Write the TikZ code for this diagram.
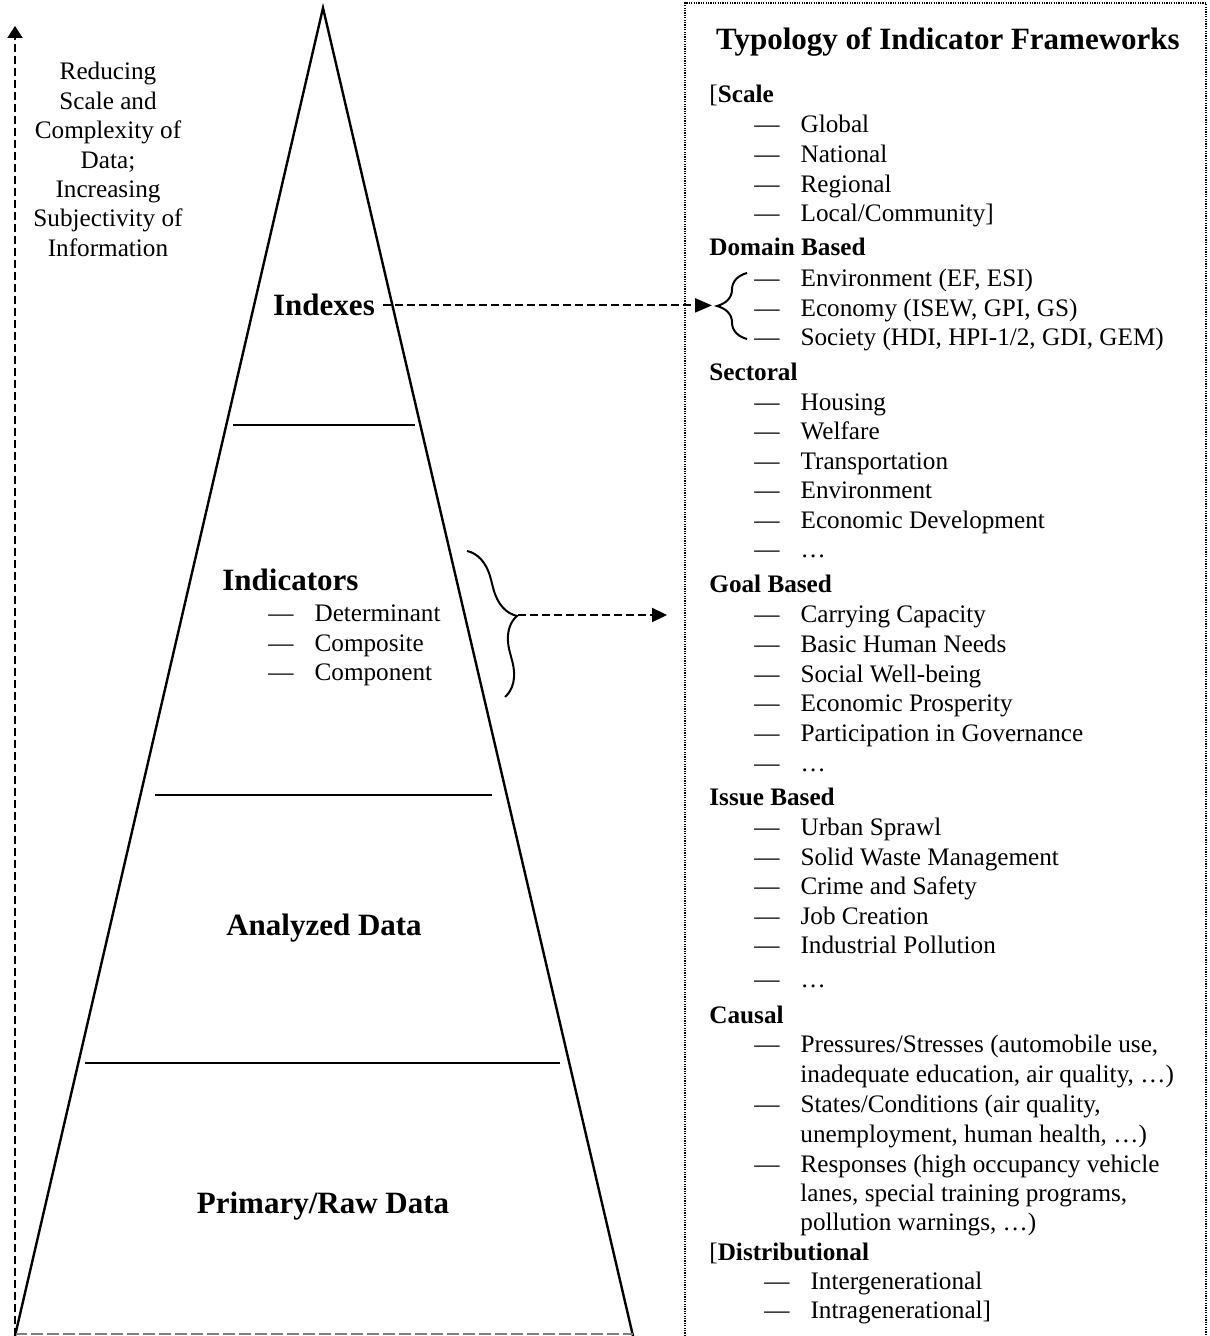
\documentclass[tikz,border=0pt]{standalone}
\usepackage{fontspec}
\setmainfont{Liberation Serif}
\usetikzlibrary{arrows.meta,decorations.pathreplacing}

\newcommand\itemdash{---\hspace{10.5pt}}

\begin{document}
\begin{tikzpicture}[x=0.5pt,y=-0.5pt,
  txt/.style={anchor=base west,inner sep=0pt,font=\fontsize{12.6}{14.8}\selectfont},
  head/.style={anchor=base west,inner sep=0pt,font=\fontsize{12.6}{14.8}\selectfont\bfseries},
  big/.style={anchor=base,inner sep=0pt,font=\fontsize{15.5}{18}\selectfont\bfseries},
  pyr/.style={line width=1.2pt},
  dasharrow/.style={line width=1.1pt,dash pattern=on 4pt off 2pt,-{Triangle[length=8.5pt,width=7pt]}},
  brc/.style={line width=1pt,decorate,decoration={brace,amplitude=15pt}}]
\useasboundingbox (0,0) rectangle (1209,1336);
% pyramid
\draw[pyr] (15,1336) -- (323,8) -- (633,1336);
\draw[gray,line width=1pt,dash pattern=on 6pt off 2pt] (15,1334) -- (633,1334);
\draw[pyr] (233,425) -- (415,425);
\draw[pyr] (155,795) -- (492,795);
\draw[pyr] (85,1063) -- (560,1063);
\node[big] (idx) at (324,316) {Indexes};
\node[big,anchor=base west] (ind) at (222,590) {Indicators};
\node[txt] (ind1) at (268,621) {\itemdash Determinant};
\node[txt] (ind2) at (268,651) {\itemdash Composite};
\node[txt] (ind3) at (268,680) {\itemdash Component};
\node[big] (ana) at (324,935) {Analyzed Data};
\node[big] (raw) at (323,1213) {Primary/Raw Data};
% left arrow
\coordinate (arrbot) at (15,1336);
\coordinate (arrtop) at (15,26);
\draw[line width=1pt,dash pattern=on 4pt off 2pt,-{Triangle[length=6pt,width=7.5pt]}] (arrbot) -- (arrtop);
\node[anchor=north,align=center,inner sep=0pt,font=\fontsize{12.6}{14.7}\selectfont] (dir) at (108,62)
  {Reducing\\Scale and\\Complexity of\\Data;\\Increasing\\Subjectivity of\\Information};
% typology box
\draw[line width=1pt,dash pattern=on 0.6pt off 0.6pt] (685,1336) -- (685,3) -- (1206,3) -- (1206,1336);
\node[big] (title) at (948,50) {Typology of Indicator Frameworks};
\node[head] (sc) at (709,103) {\textmd{[}Scale};
\node[txt] (sc1) at (754,133) {\itemdash Global};
\node[txt] (sc2) at (754,163) {\itemdash National};
\node[txt] (sc3) at (754,193) {\itemdash Regional};
\node[txt] (sc4) at (754,222) {\itemdash Local/Community]};
\node[head] (dom) at (709,256) {Domain Based};
\node[txt] (dom1) at (754,287) {\itemdash Environment (EF, ESI)};
\node[txt] (dom2) at (754,317) {\itemdash Economy (ISEW, GPI, GS)};
\node[txt] (dom3) at (754,346) {\itemdash Society (HDI, HPI-1/2, GDI, GEM)};
\node[head] (sec) at (709,380) {Sectoral};
\node[txt] (sec1) at (754,410) {\itemdash Housing};
\node[txt] (sec2) at (754,439) {\itemdash Welfare};
\node[txt] (sec3) at (754,469) {\itemdash Transportation};
\node[txt] (sec4) at (754,498) {\itemdash Environment};
\node[txt] (sec5) at (754,528) {\itemdash Economic Development};
\node[txt] (sec6) at (754,557) {\itemdash \dots};
\node[head] (goal) at (709,592) {Goal Based};
\node[txt] (goal1) at (754,622) {\itemdash Carrying Capacity};
\node[txt] (goal2) at (754,652) {\itemdash Basic Human Needs};
\node[txt] (goal3) at (754,682) {\itemdash Social Well-being};
\node[txt] (goal4) at (754,711) {\itemdash Economic Prosperity};
\node[txt] (goal5) at (754,741) {\itemdash Participation in Governance};
\node[txt] (goal6) at (754,771) {\itemdash \dots};
\node[head] (iss) at (709,805) {Issue Based};
\node[txt] (iss1) at (754,835) {\itemdash Urban Sprawl};
\node[txt] (iss2) at (754,865) {\itemdash Solid Waste Management};
\node[txt] (iss3) at (754,894) {\itemdash Crime and Safety};
\node[txt] (iss4) at (754,924) {\itemdash Job Creation};
\node[txt] (iss5) at (754,953) {\itemdash Industrial Pollution};
\node[txt] (iss6) at (754,987) {\itemdash \dots};
\node[head] (cau) at (709,1023) {Causal};
\node[txt] (cau1) at (754,1052) {\itemdash Pressures/Stresses (automobile use,};
\node[txt] (cau1b) at (800,1082) {inadequate education, air quality, \dots)};
\node[txt] (cau2) at (754,1112) {\itemdash States/Conditions (air quality,};
\node[txt] (cau2b) at (800,1142) {unemployment, human health, \dots)};
\node[txt] (cau3) at (754,1172) {\itemdash Responses (high occupancy vehicle};
\node[txt] (cau3b) at (800,1201) {lanes, special training programs,};
\node[txt] (cau3c) at (800,1230) {pollution warnings, \dots)};
\node[head] (dis) at (709,1260) {\textmd{[}Distributional};
\node[txt] (dis1) at (764,1289) {\itemdash Intergenerational};
\node[txt] (dis2) at (764,1318) {\itemdash Intragenerational]};
% braces and links
\draw[brc] (747,339) -- (747,273);
\coordinate (domtip) at (712,308);
\draw[dasharrow,shorten <=4pt] (idx.east) -- (idx.east -| domtip);
\draw[brc,decoration={amplitude=16pt}] (467,551) -- (505,697);
\coordinate (indcusp) at (518,615);
\coordinate (goaltip) at (667,615);
\draw[dasharrow,-{Triangle[length=7.5pt,width=7pt]}] (indcusp) -- (goaltip);
\end{tikzpicture}
\end{document}
